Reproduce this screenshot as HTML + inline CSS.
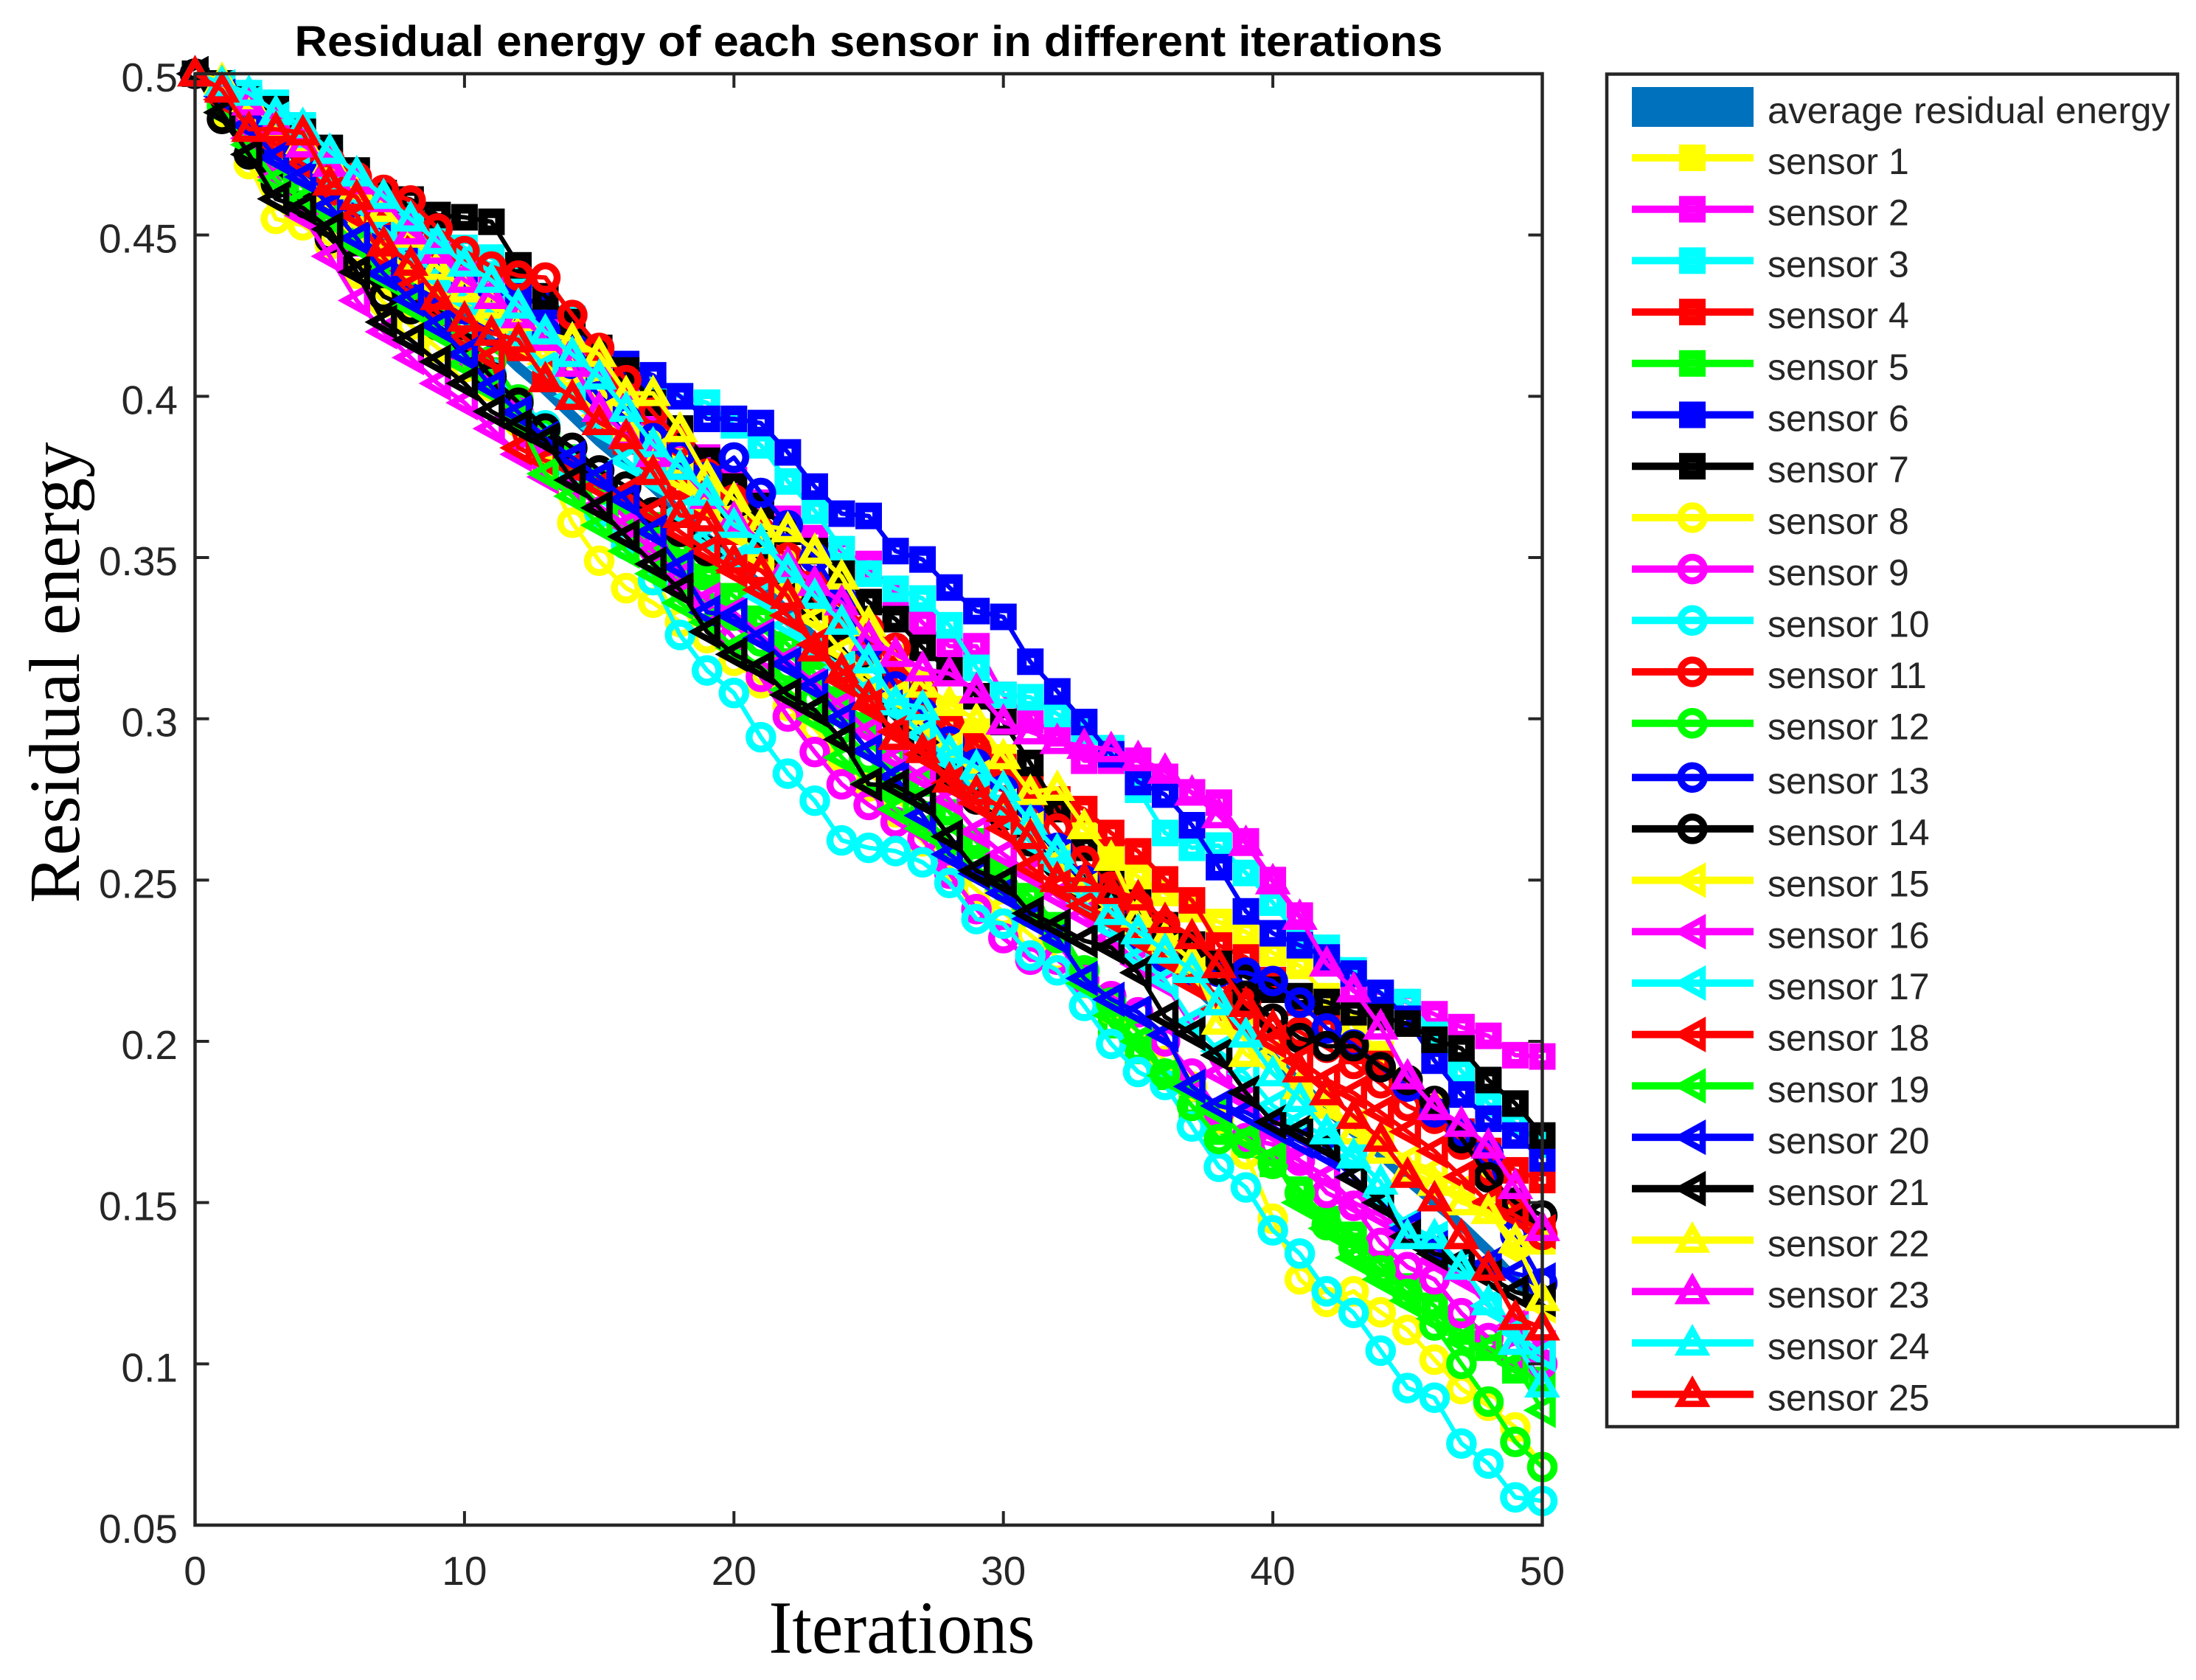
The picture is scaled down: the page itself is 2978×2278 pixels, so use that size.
<!DOCTYPE html>
<html lang="en">
<head>
<meta charset="utf-8">
<title>Residual energy of each sensor</title>
<style>
html,body{margin:0;padding:0;background:#fff;width:2978px;height:2278px;overflow:hidden}
svg{display:block}
.sans{font-family:"Liberation Sans",Arial,sans-serif}
.serif{font-family:"Liberation Serif","Times New Roman",serif}
.leg{font-family:"Liberation Sans",Arial,sans-serif;font-size:50px;fill:#262626}
</style>
</head>
<body>
<svg id="chart" xmlns="http://www.w3.org/2000/svg" width="2978" height="2278" viewBox="0 0 2978 2278">
  <rect x="0" y="0" width="2978" height="2278" fill="#ffffff"/>
  <text class="sans" x="1178" y="76" text-anchor="middle" font-size="58" font-weight="bold" fill="#000" textLength="1557" lengthAdjust="spacingAndGlyphs">Residual energy of each sensor in different iterations</text>
  <text class="serif" x="1223" y="2241" text-anchor="middle" font-size="102" fill="#000" textLength="361" lengthAdjust="spacingAndGlyphs">Iterations</text>
  <text class="serif" transform="translate(107 912) rotate(-90)" text-anchor="middle" font-size="98" fill="#000" textLength="625" lengthAdjust="spacingAndGlyphs">Residual energy</text>
  <g id="plot"></g>
  <g id="axes"></g>
  <g>
    <rect x="2179" y="100.5" width="774" height="1834" fill="#ffffff" stroke="#262626" stroke-width="4.5"/>
    <rect x="2213" y="118" width="165" height="54" fill="#0072BD"/>
    <g id="legend-handles"></g>
    <text class="leg" x="2397" y="167" textLength="546" lengthAdjust="spacingAndGlyphs">average residual energy</text>
    <text class="leg" x="2397" y="236">sensor 1</text>
    <text class="leg" x="2397" y="305.7">sensor 2</text>
    <text class="leg" x="2397" y="375.4">sensor 3</text>
    <text class="leg" x="2397" y="445.1">sensor 4</text>
    <text class="leg" x="2397" y="514.8">sensor 5</text>
    <text class="leg" x="2397" y="584.5">sensor 6</text>
    <text class="leg" x="2397" y="654.2">sensor 7</text>
    <text class="leg" x="2397" y="723.9">sensor 8</text>
    <text class="leg" x="2397" y="793.6">sensor 9</text>
    <text class="leg" x="2397" y="863.3">sensor 10</text>
    <text class="leg" x="2397" y="933">sensor 11</text>
    <text class="leg" x="2397" y="1002.7">sensor 12</text>
    <text class="leg" x="2397" y="1076.2">sensor 13</text>
    <text class="leg" x="2397" y="1145.9">sensor 14</text>
    <text class="leg" x="2397" y="1215.6">sensor 15</text>
    <text class="leg" x="2397" y="1285.3">sensor 16</text>
    <text class="leg" x="2397" y="1355">sensor 17</text>
    <text class="leg" x="2397" y="1424.7">sensor 18</text>
    <text class="leg" x="2397" y="1494.4">sensor 19</text>
    <text class="leg" x="2397" y="1564.1">sensor 20</text>
    <text class="leg" x="2397" y="1633.8">sensor 21</text>
    <text class="leg" x="2397" y="1703.5">sensor 22</text>
    <text class="leg" x="2397" y="1773.2">sensor 23</text>
    <text class="leg" x="2397" y="1842.9">sensor 24</text>
    <text class="leg" x="2397" y="1912.6">sensor 25</text>
  </g>
</svg>
<script>
const xTickValues = [0, 10, 20, 30, 40, 50];
const yTickValues = [0.05, 0.1, 0.15, 0.2, 0.25, 0.3, 0.35, 0.4, 0.45, 0.5];
const yTickLabels = ["0.05", "0.1", "0.15", "0.2", "0.25", "0.3", "0.35", "0.4", "0.45", "0.5"];

const averageEnergy = [.500,.493,.485,.477,.470, .462,.453,.445,.438,.431, .424,.417,.409,.402,.394, .386,.379,.372,.364,.356, .349,.341,.333,.325,.317, .309,.301,.294,.286,.278, .271,.264,.256,.248,.240, .233,.226,.218,.210,.202, .195,.187,.179,.172,.165, .157,.150,.143,.135,.126, .117];

const sensor1 = [.500,.497,.490,.483,.477, .470,.462,.455,.447,.441, .434,.428,.420,.414,.409, .403,.396,.388,.380,.372, .365,.356,.349,.341,.333, .326,.319,.311,.303,.296, .288,.280,.272,.266,.258, .251,.246,.241,.237,.2339, .2274,.2234,.214,.205,.196, .187,.180,.170,.160,.148, .138];
const sensor2 = [.500,.495,.489,.483,.478, .471,.466,.459,.451,.446, .441,.436,.429,.423,.417, .410,.402,.395,.388,.381, .374,.367,.362,.356,.352, .348,.338,.3298,.3225,.3225, .3074,.2996,.2955,.287,.287, .287,.282,.2772,.274,.262, .250,.239,.2245,.2155,.215, .212,.2084,.2044,.2017,.1957, .1953];
const sensor3 = [.500,.497,.494,.491,.484, .477,.469,.462,.457,.452, .446,.443,.438,.431,.424, .414,.408,.402,.400,.398, .391,.3848,.3736,.3645,.3526, .345,.3403,.3373,.329,.3158, .3074,.3067,.3015,.296,.2909, .278,.2646,.260,.2607,.2522, .243,.232,.229,.222,.215, .2122,.202,.1908,.1807,.1745, .168];
const sensor4 = [.500,.493,.486,.483,.479, .473,.465,.456,.448,.440, .432,.424,.415,.407,.400, .392,.386,.380,.372,.366, .358,.350,.344,.336,.328, .320,.312,.305,.298,.292, .285,.279,.275,.272,.2646, .2589,.2502,.2437,.2297,.226, .219,.212,.204,.197,.193, .186,.178,.172,.166,.160, .157];
const sensor5 = [.500,.489,.481,.473,.465, .459,.451,.442,.434,.425, .417,.408,.397,.388,.381, .374,.368,.360,.352,.344, .338,.331,.323,.314,.306, .298,.288,.280,.271,.262, .252,.245,.236,.222,.205, .197,.189,.180,.172,.168, .162,.154,.1449,.140,.131, .124,.118,.110,.105,.098, .095];
const sensor6 = [.500,.496,.490,.480,.470, .462,.456,.449,.443,.438, .434,.430,.431,.428,.422, .413,.410,.4065,.400,.393, .393,.3917,.3826,.372,.3636, .3629,.352,.3494,.3407,.3334, .3316,.3177,.3085,.299,.289, .2804,.2765,.267,.254,.2403, .2335,.2298,.226,.221,.215, .207,.194,.1835,.176,.1708, .1637];
const sensor7 = [.500,.497,.492,.489,.482, .477,.470,.463,.461,.4562, .4555,.4541,.4406,.431,.423, .415,.408,.398,.390,.380, .372,.366,.358,.352,.345, .3362,.3309,.322,.315,.307, .299,.2863,.272,.260,.250, .243,.236,.230,.224,.220, .216,.214,.2122,.209,.2075, .2055,.2005,.1978,.188,.1807, .1708];
const sensor8 = [.500,.488,.472,.455,.453, .447,.438,.429,.422,.415, .409,.403,.392,.378,.3608, .349,.3405,.336,.330,.325, .318,.311,.304,.297,.288, .279,.271,.262,.254,.247, .240,.233,.226,.218,.210, .203,.194,.186,.176,.165, .145,.1262,.1192,.1225,.116, .1105,.1013,.0922,.087,.0803, .068];
const sensor9 = [.500,.491,.482,.474,.466, .457,.448,.441,.432,.423, .414,.405,.395,.386,.379, .371,.362,.353,.343,.334, .325,.313,.3007,.2897,.2797, .2733,.268,.2628,.252,.241, .232,.2253,.2253,.219,.214, .209,.200,.190,.178,.170, .168,.163,.153,.149,.1375, .130,.1262,.1157,.108,.103, .100];
const sensor10 = [.500,.493,.485,.478,.470, .461,.451,.442,.433,.425, .416,.407,.399,.391,.378, .364,.354,.343,.326,.315, .308,.2943,.283,.2746,.2623, .260,.259,.2555,.2491,.2379, .2365,.2266,.222,.211,.1992, .1905,.1865,.1736,.1611,.1547, .1414,.1342,.1225,.1158,.1041, .0925,.0895,.0753,.0691,.0586, .0575];
const sensor11 = [.500,.495,.488,.482,.478, .473,.468,.464,.4607,.452, .445,.4402,.4374,.4368,.4252, .415,.405,.395,.386,.376, .368,.358,.350,.342,.335, .328,.322,.308,.298,.290, .282,.275,.266,.256,.248, .242,.236,.228,.218,.212, .207,.203,.198,.193,.187, .180,.176,.168,.160,.148, .140];
const sensor12 = [.500,.490,.479,.471,.466, .460,.450,.442,.436,.428, .420,.411,.399,.389,.380, .371,.364,.356,.348,.340, .332,.324,.316,.306,.297, .288,.279,.270,.262,.254, .248,.240,.232,.222,.212, .203,.190,.180,.1697,.1683, .162,.153,.143,.136,.129, .1217,.1119,.100,.0883,.0758, .068];
const sensor13 = [.500,.495,.486,.478,.470, .461,.453,.445,.437,.433, .427,.420,.425,.420,.410, .400,.393,.387,.382,.375, .381,.370,.360,.350,.337, .323,.310,.302,.293,.286, .278,.270,.260,.250,.240, .233,.226,.222,.2215,.2213, .2187,.212,.204,.199,.192, .186,.178,.172,.165,.140, .125];
const sensor14 = [.500,.486,.475,.466,.459, .449,.441,.431,.427,.422, .415,.406,.398,.390,.384, .377,.372,.364,.358,.352, .364,.354,.345,.335,.322, .312,.300,.293,.283,.275, .270,.262,.255,.248,.242, .236,.232,.228,.222,.214, .207,.201,.1985,.1985,.192, .188,.1815,.170,.1578,.150, .146];
const sensor15 = [.500,.494,.487,.478,.468, .461,.452,.445,.439,.434, .429,.424,.417,.410,.402, .394,.388,.382,.374,.366, .358,.350,.340,.331,.321, .313,.307,.298,.291,.282, .273,.266,.256,.247,.240, .233,.228,.221,.210,.203, .196,.186,.180,.174,.170, .163,.160,.154,.148,.135, .118];
const sensor16 = [.500,.492,.480,.468,.456, .4434,.4297,.420,.412,.404, .398,.390,.382,.375,.372, .366,.360,.352,.344,.337, .333,.326,.318,.311,.304, .296,.288,.282,.275,.265, .258,.252,.245,.239,.232, .224,.218,.205,.190,.182, .172,.163,.158,.150,.146, .140,.132,.127,.118,.112, .105];
const sensor17 = [.500,.496,.491,.486,.476, .468,.460,.452,.445,.437, .430,.426,.418,.409,.400, .390,.380,.374,.364,.356, .349,.338,.329,.322,.316, .309,.303,.295,.287,.277, .270,.262,.254,.243,.235, .226,.219,.206,.197,.190, .180,.175,.170,.164,.152, .143,.139,.131,.118,.110, .1028];
const sensor18 = [.500,.492,.484,.478,.472, .463,.456,.443,.434,.426, .418,.412,.384,.380,.378, .372,.370,.364,.358,.352, .346,.340,.332,.323,.312, .304,.296,.289,.280,.274, .266,.254,.248,.242,.238, .232,.226,.218,.210,.205, .200,.194,.188,.184,.178, .172,.166,.158,.150,.146, .141];
const sensor19 = [.500,.488,.478,.467,.461, .455,.447,.437,.428,.420, .410,.402,.393,.376,.369, .360,.352,.345,.336,.330, .322,.316,.309,.300,.288, .280,.272,.266,.258,.252, .247,.241,.234,.218,.208, .200,.1894,.1855,.178,.170, .164,.150,.142,.1329,.1262, .1196,.114,.1072,.105,.100, .0856];
const sensor20 = [.500,.493,.484,.474,.468, .459,.449,.438,.430,.422, .413,.403,.395,.387,.381, .375,.368,.358,.347,.333, .332,.325,.317,.310,.300, .290,.282,.270,.258,.252, .246,.238,.232,.2195,.213, .209,.202,.186,.180,.178, .1735,.169,.165,.158,.150, .142,.136,.132,.131,.128, .126];
const sensor21 = [.500,.488,.475,.4612,.4584, .4518,.4385,.423,.4175,.4107, .404,.3953,.3908,.3864,.374, .3654,.3565,.348,.340,.327, .320,.3158,.3074,.3027,.2936, .2797,.2792,.2746,.2635,.2529, .2495,.2397,.2358,.2312,.2291, .2213,.2076,.2024,.1957,.1841, .175,.1722,.1676,.1578,.150, .1395,.1342,.132,.127,.1223, .120];
const sensor22 = [.500,.498,.492,.483,.479, .473,.465,.458,.450,.440, .433,.428,.4241,.4196,.4175, .413,.4009,.4009,.3897,.375, .368,.360,.3587,.352,.344, .3295,.320,.3105,.3048,.2995, .2883,.2772,.2785,.2666,.2568, .2392,.232,.225,.206,.196, .190,.186,.180,.172,.166, .160,.156,.150,.1473,.1382, .1203];
const sensor23 = [.500,.497,.491,.485,.478, .472,.4665,.461,.451,.445, .436,.431,.425,.418,.410, .396,.388,.382,.378,.369, .362,.355,.348,.342,.336, .325,.320,.3155,.314,.3087, .299,.296,.293,.2915,.2905, .2877,.2838,.277,.270,.2614, .2495,.2385,.224,.216,.2045, .189,.1795,.1743,.1676,.155, .142];
const sensor24 = [.500,.497,.494,.488,.484, .476,.469,.462,.455,.448, .441,.436,.428,.420,.413, .406,.396,.385,.378,.370, .360,.355,.346,.338,.330, .318,.305,.3035,.290,.285, .2785,.268,.259,.250,.240, .234,.228,.222,.212,.202, .190,.182,.172,.1645,.1564, .1395,.1395,.130,.119,.1067, .0935];
const sensor25 = [.500,.495,.4828,.4828,.4817, .4662,.4617,.4473,.4413,.4307, .424,.4196,.4175,.4052,.3997, .3919,.3875,.3764,.3631,.362, .349,.346,.338,.3217,.315, .3066,.2943,.2902,.2811,.2772, .272,.2635,.2502,.2502,.2465, .2445,.2375,.2325,.2235,.2115, .2045,.1912,.1841,.1768,.1697, .1585,.1512,.1395,.1297,.1144, .1112];

const allSensors = [sensor1,sensor2,sensor3,sensor4,sensor5,sensor6,sensor7,sensor8,sensor9,sensor10,sensor11,sensor12,sensor13,sensor14,sensor15,sensor16,sensor17,sensor18,sensor19,sensor20,sensor21,sensor22,sensor23,sensor24,sensor25];

const NS = 'http://www.w3.org/2000/svg';
const PLOT = {left: 264.5, right: 2091.5, top: 100, bottom: 2068, xMin: 0, xMax: 50, yMin: 0.05, yMax: 0.5};
const sensorColors = ['#ffff00','#ff00ff','#00ffff','#ff0000','#00ff00','#0000ff','#000000'];

function xScale(v){ return PLOT.left + (v - PLOT.xMin) / (PLOT.xMax - PLOT.xMin) * (PLOT.right - PLOT.left); }
function yScale(v){ return PLOT.bottom - (v - PLOT.yMin) / (PLOT.yMax - PLOT.yMin) * (PLOT.bottom - PLOT.top); }
function pathFor(values){
  return values.map(function(v, i){ return (i ? 'L' : 'M') + xScale(i).toFixed(1) + ' ' + yScale(v).toFixed(1); }).join('');
}
function markerShape(index, cx, cy, color){
  let el;
  if (index < 7) {
    el = document.createElementNS(NS, 'rect');
    el.setAttribute('x', cx - 11.5);
    el.setAttribute('y', cy - 11.5);
    el.setAttribute('width', 23);
    el.setAttribute('height', 23);
    el.setAttribute('stroke-width', 13);
  } else if (index < 14) {
    el = document.createElementNS(NS, 'circle');
    el.setAttribute('cx', cx);
    el.setAttribute('cy', cy);
    el.setAttribute('r', 16);
    el.setAttribute('stroke-width', 9.5);
  } else if (index < 21) {
    el = document.createElementNS(NS, 'polygon');
    el.setAttribute('points', (cx - 17) + ',' + cy + ' ' + (cx + 14) + ',' + (cy - 17) + ' ' + (cx + 14) + ',' + (cy + 17));
    el.setAttribute('stroke-width', 8.5);
  } else {
    el = document.createElementNS(NS, 'polygon');
    el.setAttribute('points', cx + ',' + (cy - 17) + ' ' + (cx + 17) + ',' + (cy + 13) + ' ' + (cx - 17) + ',' + (cy + 13));
    el.setAttribute('stroke-width', 8.5);
  }
  el.setAttribute('fill', 'none');
  el.setAttribute('stroke', color);
  return el;
}

const plot = document.getElementById('plot');
const avg = document.createElementNS(NS, 'path');


avg.setAttribute('d', pathFor(averageEnergy));
avg.setAttribute('fill', 'none');
avg.setAttribute('stroke', '#0072BD');
avg.setAttribute('stroke-width', '14');
plot.appendChild(avg);

allSensors.forEach(function(values, s){
  const color = sensorColors[s % 7];
  const group = document.createElementNS(NS, 'g');
  
  
  const line = document.createElementNS(NS, 'path');
  
  
  line.setAttribute('d', pathFor(values));
  line.setAttribute('fill', 'none');
  line.setAttribute('stroke', color);
  line.setAttribute('stroke-width', '6');
  line.setAttribute('stroke-linejoin', 'round');
  group.appendChild(line);
  values.forEach(function(v, i){
    const m = markerShape(s, xScale(i), yScale(v), color);
    
    
    group.appendChild(m);
  });
  plot.appendChild(group);
});

const axes = document.getElementById('axes');
const frame = document.createElementNS(NS, 'rect');


frame.setAttribute('x', PLOT.left);
frame.setAttribute('y', PLOT.top);
frame.setAttribute('width', PLOT.right - PLOT.left);
frame.setAttribute('height', PLOT.bottom - PLOT.top);
frame.setAttribute('fill', 'none');
frame.setAttribute('stroke', '#262626');
frame.setAttribute('stroke-width', '4.5');
axes.appendChild(frame);

function tick(x1, y1, x2, y2, name){
  const t = document.createElementNS(NS, 'line');
  
  
  t.setAttribute('x1', x1);
  t.setAttribute('y1', y1);
  t.setAttribute('x2', x2);
  t.setAttribute('y2', y2);
  t.setAttribute('stroke', '#262626');
  t.setAttribute('stroke-width', '4');
  axes.appendChild(t);
}
function tickLabel(x, y, str, anchor, name){
  const t = document.createElementNS(NS, 'text');
  
  
  t.setAttribute('x', x);
  t.setAttribute('y', y);
  t.setAttribute('text-anchor', anchor);
  t.setAttribute('class', 'sans');
  t.setAttribute('font-size', '55');
  t.setAttribute('fill', '#262626');
  t.textContent = str;
  axes.appendChild(t);
}
xTickValues.forEach(function(v){
  const x = xScale(v);
  tick(x, PLOT.bottom, x, PLOT.bottom - 19, 'x-tick');
  tick(x, PLOT.top, x, PLOT.top + 19, 'x-tick-top');
  tickLabel(x, 2149, String(v), 'middle', 'x-tick-label');
});
yTickValues.forEach(function(v, i){
  const y = yScale(v);
  tick(PLOT.left, y, PLOT.left + 19, y, 'y-tick');
  tick(PLOT.right, y, PLOT.right - 19, y, 'y-tick-right');
  tickLabel(241, y + 24, yTickLabels[i], 'end', 'y-tick-label');
});

const handles = document.getElementById('legend-handles');
allSensors.forEach(function(values, s){
  const color = sensorColors[s % 7];
  const y = 214 + 69.7 * s + (s >= 12 ? 3.8 : 0);
  const hl = document.createElementNS(NS, 'line');
  
  
  hl.setAttribute('x1', 2213);
  hl.setAttribute('y1', y);
  hl.setAttribute('x2', 2378);
  hl.setAttribute('y2', y);
  hl.setAttribute('stroke', color);
  hl.setAttribute('stroke-width', '10');
  handles.appendChild(hl);
  const hm = markerShape(s, 2295, y, color);
  
  
  handles.appendChild(hm);
});
</script>
</body>
</html>
